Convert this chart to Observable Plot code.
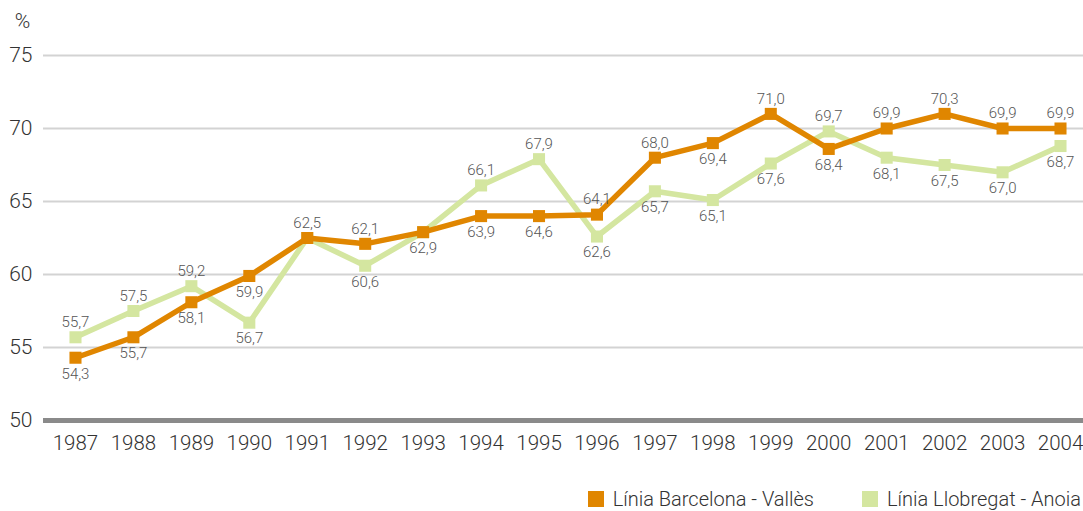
<!DOCTYPE html>
<html>
<head>
<meta charset="utf-8">
<script src="https://cdn.jsdelivr.net/npm/d3@7"></script>
<script src="https://cdn.jsdelivr.net/npm/@observablehq/plot@0.6"></script>
<style>
  html, body { margin: 0; padding: 0; background: #fff; }
  body { width: 1083px; height: 511px; overflow: hidden; font-family: Roboto, "Liberation Sans", sans-serif; font-weight: 300; }
  #legend { display: flex; justify-content: flex-end; align-items: center; height: 24px; padding-top: 17px; padding-right: 2px; font-size: 20px; color: #333; }
  .item { display: flex; align-items: center; white-space: nowrap; }
  .item + .item { margin-left: 48px; }
  .sw { width: 16px; height: 16px; margin-right: 9px; }
</style>
</head>
<body>
<div id="chart"></div>
<div id="legend"></div>
<script>
const years = [1987, 1988, 1989, 1990, 1991, 1992, 1993, 1994, 1995, 1996, 1997, 1998, 1999, 2000, 2001, 2002, 2003, 2004];
const seriesNames = ["Línia Barcelona - Vallès", "Línia Llobregat - Anoia"];
const barcelonaValles = [54.3, 55.7, 58.1, 59.9, 62.5, 62.1, 62.9, 64.0, 64.0, 64.1, 68.0, 69.0, 71.0, 68.6, 70.0, 71.0, 70.0, 70.0];
const barcelonaLabels = ["54,3", "55,7", "58,1", "59,9", "62,5", "62,1", "62,9", "63,9", "64,6", "64,1", "68,0", "69,4", "71,0", "68,4", "69,9", "70,3", "69,9", "69,9"];
const barcelonaPlace = ["below", "below", "below", "below", "above", "above", "below", "below", "below", "above", "above", "below", "above", "below", "above", "above", "above", "above"];
const llobregatAnoia = [55.7, 57.5, 59.2, 56.7, 62.5, 60.6, 62.9, 66.1, 67.9, 62.6, 65.7, 65.1, 67.6, 69.8, 68.0, 67.5, 67.0, 68.8];
const llobregatLabels = ["55,7", "57,5", "59,2", "56,7", null, "60,6", null, "66,1", "67,9", "62,6", "65,7", "65,1", "67,6", "69,7", "68,1", "67,5", "67,0", "68,7"];
const llobregatPlace = ["above", "above", "above", "below", null, "below", null, "above", "above", "below", "below", "below", "below", "above", "below", "below", "below", "below"];
const yTicks = [50, 55, 60, 65, 70, 75];
const colors = ["#E08600", "#D4E6A0"];

const rows = [];
years.forEach((yr, i) => {
  rows.push({year: yr, value: barcelonaValles[i], label: barcelonaLabels[i], place: barcelonaPlace[i], series: seriesNames[0]});
});
years.forEach((yr, i) => {
  rows.push({year: yr, value: llobregatAnoia[i], label: llobregatLabels[i], place: llobregatPlace[i], series: seriesNames[1]});
});
const bv = rows.filter(d => d.series === seriesNames[0]);
const la = rows.filter(d => d.series === seriesNames[1]);

const labelStyle = {fontSize: 15, fill: "#555", fontWeight: 300};

const chart = Plot.plot({
  width: 1083,
  height: 470,
  marginLeft: 43,
  marginRight: 0,
  marginTop: 55,
  marginBottom: 50,
  style: {fontFamily: "Roboto, 'Liberation Sans', sans-serif", fontWeight: 300, background: "#fff", overflow: "visible"},
  x: {type: "linear", domain: [1986.448, 2004.397], axis: null},
  y: {domain: [50, 75], axis: null},
  color: {domain: seriesNames, range: colors},
  marks: [
    Plot.ruleY(yTicks.filter(t => t > 50), {stroke: "#d3d3d3", strokeWidth: 2}),
    Plot.ruleY([50], {stroke: "#8a8a8a", strokeWidth: 5}),
    Plot.axisY(yTicks, {anchor: "left", tickSize: 0, tickPadding: 11, fontSize: 21, fill: "#333", tickFormat: d => String(d), label: null}),
    Plot.axisX(years, {anchor: "bottom", tickSize: 0, tickPadding: 15, fontSize: 20.5, fill: "#333", tickFormat: d => String(d), label: null}),
    Plot.text(["%"], {frameAnchor: "top-left", textAnchor: "middle", lineAnchor: "middle", dx: -21, dy: -34, fontSize: 21, fill: "#333", fontWeight: 300}),
    Plot.line(la, {x: "year", y: "value", stroke: colors[1], strokeWidth: 5.5, strokeLinejoin: "miter"}),
    Plot.dot(la, {x: "year", y: "value", symbol: "square", r: 6.8, fill: colors[1], stroke: "none"}),
    Plot.line(bv, {x: "year", y: "value", stroke: colors[0], strokeWidth: 5.5, strokeLinejoin: "miter"}),
    Plot.dot(bv, {x: "year", y: "value", symbol: "square", r: 6.8, fill: colors[0], stroke: "none"}),
    Plot.text(rows.filter(d => d.label && d.place === "above"), {x: "year", y: "value", text: "label", dy: -15, ...labelStyle}),
    Plot.text(rows.filter(d => d.label && d.place === "below"), {x: "year", y: "value", text: "label", dy: 16, ...labelStyle})
  ]
});
document.getElementById("chart").appendChild(chart);

const legend = document.getElementById("legend");
seriesNames.forEach((name, i) => {
  const item = document.createElement("div");
  item.className = "item";
  const sw = document.createElement("span");
  sw.className = "sw";
  sw.style.background = colors[i];
  const txt = document.createElement("span");
  txt.textContent = name;
  item.appendChild(sw);
  item.appendChild(txt);
  legend.appendChild(item);
});
</script>
</body>
</html>
